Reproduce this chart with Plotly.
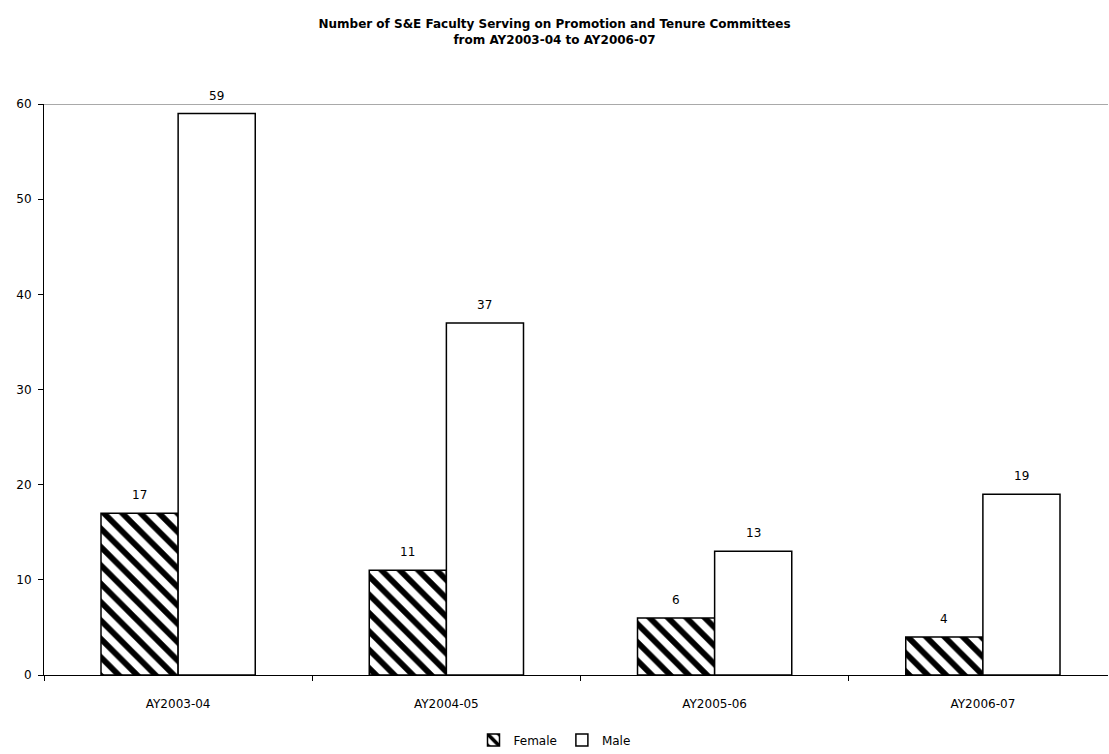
import plotly.graph_objects as go

years = ["AY2003-04", "AY2004-05", "AY2005-06", "AY2006-07"]
female = [17, 11, 6, 4]
male = [59, 37, 13, 19]
y_ticks = [0, 10, 20, 30, 40, 50, 60]

font_family = "DejaVu Sans, Verdana, sans-serif"
label_font = dict(size=12, color="black", family=font_family)

fig = go.Figure()
fig.add_trace(go.Bar(
    name="Female", x=years, y=female,
    marker=dict(color="white", line=dict(color="black", width=1.5),
                pattern=dict(shape="\\", fgcolor="#000000", bgcolor="#ffffff",
                             fgopacity=1, fillmode="replace",
                             size=13, solidity=0.45)),
))
fig.add_trace(go.Bar(
    name="Male", x=years, y=male,
    marker=dict(color="white", line=dict(color="black", width=1.5)),
))

# value labels above each bar (offset to the bar's slot within the group)
half_bar = 38.4
annotations = []
for series, shift in ((female, -half_bar), (male, half_bar)):
    for cat, val in zip(years, series):
        annotations.append(dict(
            x=cat, y=val, xref="x", yref="y", text=str(val), showarrow=False,
            xanchor="center", yanchor="bottom", xshift=shift, yshift=9,
            font=label_font,
        ))

fig.update_layout(
    width=1109, height=754,
    paper_bgcolor="white", plot_bgcolor="white",
    font=dict(family=font_family, size=12, color="black"),
    title=dict(
        text="<b>Number of S&E Faculty Serving on Promotion and Tenure Committees<br>from AY2003-04 to AY2006-07</b>",
        x=0.5, xanchor="center", xref="container",
        y=1 - 28 / 754, yanchor="top", yref="container",
        font=dict(size=12, family=font_family, color="black"),
    ),
    barmode="group", bargap=0.425, bargroupgap=0,
    margin=dict(l=44, r=1, t=104, b=79, autoexpand=False),
    showlegend=True,
    legend=dict(orientation="h", x=0.5, xanchor="center", xref="container",
                y=14 / 754, yanchor="middle", yref="container",
                font=dict(size=12), itemwidth=30, traceorder="normal"),
    xaxis=dict(
        type="category", range=[-0.5, 3.4664],
        showline=True, linecolor="black", linewidth=1,
        ticks="outside", tickson="boundaries", ticklen=5, tickcolor="black",
        showgrid=False, tickfont=dict(size=12), automargin=False,
        ticklabelstandoff=18,
    ),
    yaxis=dict(
        range=[0, 60], tickvals=y_ticks, showline=True, linecolor="black", linewidth=1,
        ticks="outside", ticklen=5, tickcolor="black", showgrid=False,
        zeroline=False, tickfont=dict(size=12), automargin=False,
        ticklabelstandoff=4,
    ),
    annotations=annotations,
    shapes=[dict(type="line", xref="paper", x0=0, x1=1, yref="y", y0=60, y1=60,
                 line=dict(color="#8c8c8c", width=1.5))],
)

fig.write_html(
    "out.html",
    config={"displayModeBar": False},
    post_script="document.body.style.margin='0';document.body.style.overflow='hidden';",
)
